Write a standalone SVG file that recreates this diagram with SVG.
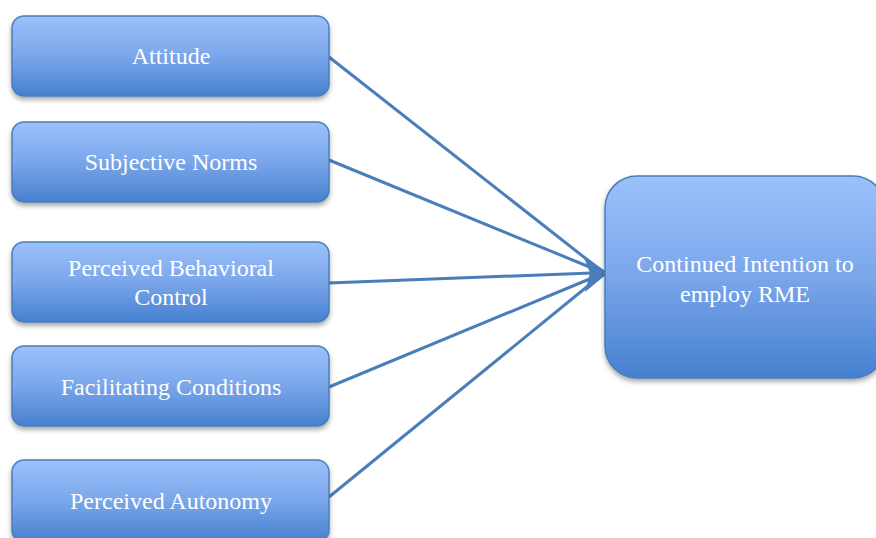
<svg xmlns="http://www.w3.org/2000/svg" width="876" height="538" viewBox="0 0 876 538">
<defs>
<linearGradient id="g" x1="0" y1="0" x2="0" y2="1">
<stop offset="0" stop-color="#9cc1fb"/>
<stop offset="0.5" stop-color="#7aa6ea"/>
<stop offset="1" stop-color="#4580cf"/>
</linearGradient>
<filter id="sh" x="-10%" y="-10%" width="120%" height="130%">
<feGaussianBlur in="SourceAlpha" stdDeviation="2.5"/>
<feOffset dx="0" dy="3"/>
<feComponentTransfer><feFuncA type="linear" slope="0.35"/></feComponentTransfer>
<feMerge><feMergeNode/><feMergeNode in="SourceGraphic"/></feMerge>
</filter>
</defs>
<style>
.box{fill:url(#g);stroke:#4a7ebb;stroke-width:1.5;filter:url(#sh)}
.t{font-family:"Liberation Serif","Times New Roman",serif;font-size:24px;fill:#ffffff;text-anchor:middle}
.c{stroke:#4a7ebb;stroke-width:3;fill:none}
</style>
<g id="connectors">
<line class="c" x1="329" y1="57" x2="594" y2="265"/>
<line class="c" x1="329" y1="160" x2="592" y2="268"/>
<line class="c" x1="329" y1="283" x2="592" y2="273"/>
<line class="c" x1="329" y1="387" x2="592" y2="278"/>
<line class="c" x1="329" y1="497" x2="594" y2="281"/>
<polygon points="608,273 583,255 590,273 585,292" fill="#4a7ebb"/>
</g>
<g id="n1"><rect class="box" x="12" y="16" width="317" height="80" rx="12"/><text class="t" x="171" y="64">Attitude</text></g>
<g id="n2"><rect class="box" x="12" y="122" width="317" height="80" rx="12"/><text class="t" x="171" y="170">Subjective Norms</text></g>
<g id="n3"><rect class="box" x="12" y="242" width="317" height="80" rx="12"/><text class="t" x="171" y="276">Perceived Behavioral</text><text class="t" x="171" y="305">Control</text></g>
<g id="n4"><rect class="box" x="12" y="346" width="317" height="80" rx="12"/><text class="t" x="171" y="395">Facilitating Conditions</text></g>
<g id="n5"><rect class="box" x="12" y="460" width="317" height="82" rx="12"/><text class="t" x="171" y="509">Perceived Autonomy</text></g>
<g id="n6"><rect class="box" x="605" y="176" width="280" height="202" rx="32"/><text class="t" x="745" y="272">Continued Intention to</text><text class="t" x="745" y="302">employ RME</text></g>
</svg>
